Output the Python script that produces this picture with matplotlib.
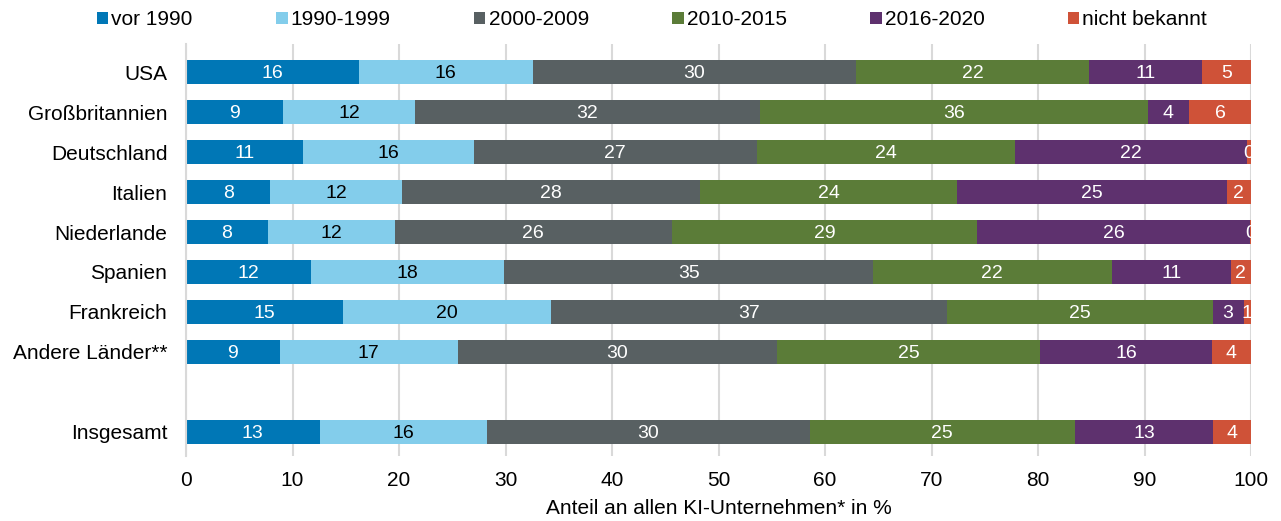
import numpy as np
import matplotlib
matplotlib.use("Agg")
from matplotlib import pyplot as plt

plt.rcParams['font.family'] = ['Liberation Sans', 'DejaVu Sans']

laender = ['USA', 'Großbritannien', 'Deutschland', 'Italien', 'Niederlande',
           'Spanien', 'Frankreich', 'Andere Länder**', 'Insgesamt']
positionen = [0, 1, 2, 3, 4, 5, 6, 7, 9]

serien = ['vor 1990', '1990-1999', '2000-2009', '2010-2015', '2016-2020', 'nicht bekannt']
farben = ['#0077b6', '#83cdeb', '#586062', '#5b7c38', '#5e316e', '#cf5238']
textfarben = ['white', 'black', 'white', 'white', 'white', 'white']

vor_1990 = [16.2, 9.1, 11.0, 7.9, 7.7, 11.7, 14.7, 8.8, 12.55]
j1990_1999 = [16.4, 12.4, 16.0, 12.4, 11.9, 18.2, 19.6, 16.7, 15.7]
j2000_2009 = [30.3, 32.4, 26.6, 28.0, 26.0, 34.6, 37.2, 30.0, 30.3]
j2010_2015 = [21.9, 36.4, 24.2, 24.1, 28.7, 22.4, 24.9, 24.7, 24.9]
j2016_2020 = [10.6, 3.9, 21.8, 25.3, 25.6, 11.2, 2.9, 16.1, 13.0]
nicht_bekannt = [4.6, 5.8, 0.4, 2.3, 0.1, 1.9, 0.7, 3.7, 3.55]

werte = [vor_1990, j1990_1999, j2000_2009, j2010_2015, j2016_2020, nicht_bekannt]

fig = plt.figure(figsize=(12.81, 5.21), dpi=100)
ax = fig.add_axes([0.1452, 0.1248, 0.8314, 0.7907])

links = np.zeros(len(laender))
for i in range(len(serien)):
    w = np.array(werte[i])
    ax.barh(positionen, w, left=links, height=0.6, color=farben[i],
            label=serien[i], zorder=2)
    for y, l, v in zip(positionen, links, w):
        ax.text(l + v / 2, y + 0.03, '%d' % round(v), ha='center', va='center',
                fontsize=14, color=textfarben[i], zorder=3, clip_on=True)
    links = links + w

ax.set_xlim(0, 100)
ax.set_ylim(9.6, -0.7)
ax.set_xticks(range(0, 101, 10))
ax.set_yticks(positionen)
ax.set_yticklabels(laender)
ax.tick_params(length=0, labelsize=15)
ax.tick_params(axis='y', pad=13.5)
ax.tick_params(axis='x', pad=11)
ax.grid(axis='x', color='#d9d9d9', linewidth=1.5, zorder=0)
for s in ['top', 'right', 'bottom']:
    ax.spines[s].set_visible(False)
ax.spines['left'].set_color('#d9d9d9')
ax.spines['left'].set_linewidth(1.5)
ax.set_xlabel('Anteil an allen KI-Unternehmen* in %', fontsize=15, labelpad=6)

fig.legend(loc='center', bbox_to_anchor=(0.509, 0.962), ncol=6, frameon=False,
           fontsize=15, handlelength=0.55, handleheight=0.55, handletextpad=0.15,
           columnspacing=4.0)

fig.savefig('out.png', dpi=100)
